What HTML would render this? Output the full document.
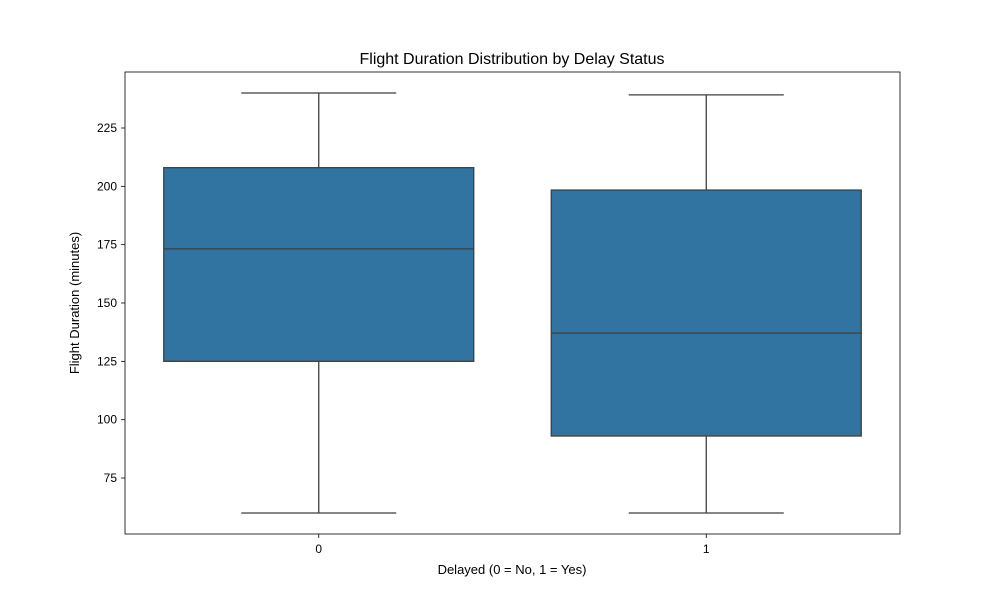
<!DOCTYPE html>
<html><head><meta charset="utf-8"><style>
body{margin:0;background:#fff;}
svg{display:block;font-family:"Liberation Sans",sans-serif;}
</style></head><body>
<svg id="chart" width="1000" height="600">
<rect width="1000" height="600" fill="#fff"/>
<text x="512" y="64" text-anchor="middle" font-size="16">Flight Duration Distribution by Delay Status</text>
<g id="marks"></g>
<g id="yticks"></g>
<g id="xticks"></g>
<rect x="125" y="72" width="775" height="462" fill="none" stroke="#000" stroke-width="0.8"/>
<text x="512" y="574" text-anchor="middle" font-size="13">Delayed (0 = No, 1 = Yes)</text>
<text transform="translate(79,303) rotate(-90)" text-anchor="middle" font-size="13">Flight Duration (minutes)</text>
</svg>
<script>
const categories = ["0","1"];
const whiskerLow = [60, 60];
const q1 = [125, 93];
const median = [173.2, 137.1];
const q3 = [208, 198.4];
const whiskerHigh = [240, 239.2];
const yTickValues = [75,100,125,150,175,200,225];

const NS="http://www.w3.org/2000/svg";
function y(v){return 128+(225-v)*(58.333/25);}
function x(i){return 125+(i+0.5)*387.5;}
function mk(tag,attrs,parent){const e=document.createElementNS(NS,tag);for(const k in attrs)e.setAttribute(k,attrs[k]);parent.appendChild(e);return e;}
const marks=document.getElementById('marks'),yt=document.getElementById('yticks'),xt=document.getElementById('xticks');
const ec="#3f3f3f";
categories.forEach((c,i)=>{
  const cx=x(i),hw=155,cap=77.5;
  const g=mk('g',{},marks);
  
  
  const l1=mk('line',{x1:cx,x2:cx,y1:y(whiskerHigh[i]),y2:y(q3[i]),stroke:ec,'stroke-width':1.3},g);
  
  
  const l2=mk('line',{x1:cx,x2:cx,y1:y(q1[i]),y2:y(whiskerLow[i]),stroke:ec,'stroke-width':1.3},g);
  
  
  const c1=mk('line',{x1:cx-cap,x2:cx+cap,y1:y(whiskerHigh[i]),y2:y(whiskerHigh[i]),stroke:ec,'stroke-width':1.3},g);
  
  
  const c2=mk('line',{x1:cx-cap,x2:cx+cap,y1:y(whiskerLow[i]),y2:y(whiskerLow[i]),stroke:ec,'stroke-width':1.3},g);
  
  
  const b=mk('rect',{x:cx-hw,y:y(q3[i]),width:hw*2,height:y(q1[i])-y(q3[i]),fill:"#3274a1",stroke:ec,'stroke-width':1.3},g);
  
  
  const m=mk('line',{x1:cx-hw,x2:cx+hw,y1:y(median[i]),y2:y(median[i]),stroke:ec,'stroke-width':1.3},g);
  
  
  const t=mk('line',{x1:cx,x2:cx,y1:534,y2:538,stroke:"#000",'stroke-width':0.8},xt);
  
  
  const tl=mk('text',{x:cx,y:553,'text-anchor':'middle','font-size':12},xt);
  tl.textContent=c;
  
  
});
yTickValues.forEach(v=>{
  const t=mk('line',{x1:121,x2:125,y1:y(v),y2:y(v),stroke:"#000",'stroke-width':0.8},yt);
  
  
  const tl=mk('text',{x:117,y:y(v)+4,'text-anchor':'end','font-size':12},yt);
  tl.textContent=v;
  
  
});
</script>
</body></html>
